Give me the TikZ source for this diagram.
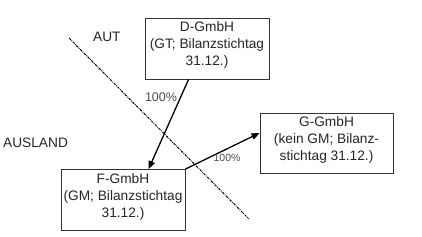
\documentclass[tikz,border=0pt]{standalone}
\usepackage{fontspec}
\setmainfont{Liberation Sans}
\usetikzlibrary{calc,arrows.meta}
\begin{document}
\begin{tikzpicture}[x=1pt,y=-1pt,
  box/.style={draw=black!80,line width=0.9pt,minimum width=124pt,minimum height=61pt,inner sep=0pt},
  txt/.style={align=center,inner sep=0pt,text=black!85,font=\fontsize{13.7}{17}\selectfont},
  lbl/.style={text=black!70,inner sep=0pt},
  arr/.style={line width=1.3pt,-{Triangle[length=8pt,width=6.5pt]}},
  border/.style={line width=1pt,dash pattern=on 2.5pt off 1pt on 0.8pt off 1pt}]
\useasboundingbox (0,0) rectangle (422,236);
\fill[white] (0,0) rectangle (422,236);
% boundary
\coordinate (b1) at (69,38);
\coordinate (b2) at (249,219);
\draw[border] (b1) -- (b2);
% boxes
\node[box] (d) at (207,48.5) {};
\node[txt] (dt) at ([yshift=3.5pt]d.center) {D-GmbH\\(GT; Bilanzstichtag\\31.12.)};
\node[box] (f) at (123,200) {};
\node[txt] (ft) at ([yshift=3.5pt]f.center) {F-GmbH\\(GM; Bilanzstichtag\\31.12.)};
\node[box,minimum width=133pt,minimum height=60pt] (g) at (326.5,143) {};
\node[txt] (gt) at ([yshift=3.5pt]g.center) {G-GmbH\\(kein GM; Bilanz-\\stichtag 31.12.)};
% region labels
\node[txt,anchor=west] (aut) at (93,37) {AUT};
\node[txt,anchor=west] (ausland) at (3,143) {AUSLAND};
% arrows
\draw[arr] ($(d.south west)+(44,0)$) -- ($(f.north west)+(88,0)$);
\draw[arr] (f.north east) -- ($(g.west)+(0,-10)$);
% labels
\node[lbl,font=\fontsize{12.5}{14}\selectfont] (p1) at (161,97) {100\%};
\node[lbl,font=\fontsize{10.5}{12}\selectfont] (p2) at (227,158) {100\%};
\end{tikzpicture}
\end{document}
